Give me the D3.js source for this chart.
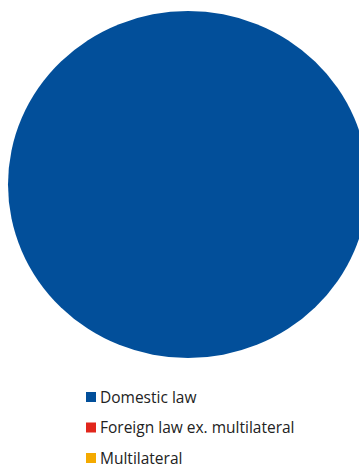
<!DOCTYPE html>
<html>
<head>
<meta charset="utf-8">
<script src="https://cdn.jsdelivr.net/npm/d3@7"></script>
<style>
  html, body { margin: 0; padding: 0; background: #fff; }
  svg { display: block; }
</style>
</head>
<body>
<svg id="chart" width="359" height="470"></svg>
<script>
const categories = ["Domestic law", "Foreign law ex. multilateral", "Multilateral"];
const values = [100, 0, 0];
const colors = ["#024F9A", "#E1261C", "#F4AA00"];

const svg = d3.select("#chart");
const cx = 188, cy = 184.5, rx = 180, ry = 173.5;

const pie = d3.pie().sort(null).value(d => d.value);
const data = categories.map((c, i) => ({ name: c, value: values[i], color: colors[i] }));
const arc = d3.arc().innerRadius(0).outerRadius(ry);

const g = svg.append("g")
  .attr("transform", `translate(${cx},${cy}) scale(${rx / ry},1)`);
g.selectAll("path")
  .data(pie(data))
  .join("path")
  .attr("d", arc)
  .attr("fill", d => d.data.color);

const legendY = d3.scalePoint().domain(categories).range([397, 458]);
const lg = svg.append("g");
const items = lg.selectAll("g").data(data).join("g")
  .attr("transform", d => `translate(86,${legendY(d.name)})`);
items.append("rect")
  .attr("x", 0).attr("y", -5)
  .attr("width", 10).attr("height", 10)
  .attr("fill", d => d.color);
items.append("text")
  .attr("x", 14).attr("y", 0)
  .attr("dy", "0.36em")
  .attr("font-family", "'Open Sans', sans-serif")
  .attr("font-size", 15.5)
  .attr("fill", "#222")
  .text(d => d.name);
</script>
</body>
</html>
